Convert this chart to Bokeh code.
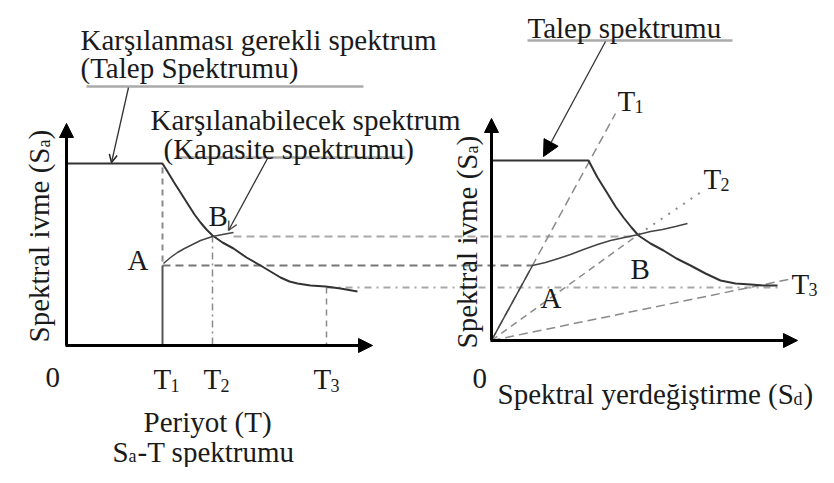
import math
from bokeh.plotting import figure
from bokeh.models import Range1d, Arrow, NormalHead, OpenHead
from bokeh.core.properties import value
from bokeh.embed import file_html
from bokeh.resources import INLINE

# ---------------- data (diagram coordinates, image pixel space) ----------------
# Left chart: Sa-T spectrum
L_origin_x, L_origin_y = 66, 345
L_yaxis_tip, L_xaxis_tip = 123, 372
L_demand_x = [66, 162, 167, 173, 180, 187, 194, 200, 206, 212, 222, 233, 246, 260, 270, 280, 289, 297, 310, 325, 340, 357]
L_demand_y = [163, 163, 171, 181, 192, 203, 214, 222, 229, 235, 242, 248, 257, 265, 271, 277, 281, 283, 285, 286, 288, 291]
L_capacity_x = [163, 170, 177, 184, 190, 200, 212, 222, 233]
L_capacity_y = [263, 257, 252, 248, 245, 240, 236, 234, 232]
L_T_x = [162, 212, 326]            # T1, T2, T3
L_T_top = [163, 235, 287]          # where verticals start
L_A_y, L_B_y, L_C_y = 265, 236, 287  # A, B, T3 levels

# Right chart: Sa-Sd spectrum
R_origin_x, R_origin_y = 491, 340
R_yaxis_tip, R_xaxis_tip = 118, 797
R_demand_x = [491, 588, 597, 607, 615, 623, 631, 638, 650, 663, 676, 690, 705, 720, 735, 750, 763, 777]
R_demand_y = [160, 160, 177, 193, 206, 217, 227, 235, 243, 250, 258, 265, 273, 280, 283, 284, 285, 285]
R_capacity_x = [491, 532, 545, 558, 570, 583, 597, 610, 624, 638, 650, 662, 675, 687]
R_capacity_y = [340, 265, 262, 258, 254, 249, 244, 240, 237, 234, 231, 229, 226, 223]
R_ray_T1 = (615, 113)
R_ray_T2_B = (638, 234)
R_ray_T2_end = (700, 192)
R_ray_T3 = (788, 279)
R_A_x, R_B_x, R_C_x = 532, 636, 777

FONT = value("Liberation Serif")
MAIN = "29px"
SUB = "18px"

p = figure(width=818, height=467, output_backend="svg", toolbar_location=None,
           x_range=Range1d(0, 818), y_range=Range1d(467, 0), min_border=0)
p.axis.visible = False
p.grid.visible = False
p.outline_line_color = None
p.background_fill_color = "white"
p.border_fill_color = "white"


def txt(x, y, s, size=MAIN, angle=0.0, color="#1a1a1a"):
    p.text(x=[x], y=[y], text=[s], text_font=FONT, text_font_size=size,
           text_align="left", text_baseline="alphabetic", angle=angle,
           text_color=color)


DASH = "8 5"
GRAY = "#8a8a8a"

# ---------------- helper lines between charts ----------------
p.line([L_T_x[1] + 21, R_B_x], [L_B_y, L_B_y], line_color="#a8a8a8", line_width=2, line_dash=DASH)
p.line([L_T_x[0], R_A_x], [L_A_y, L_A_y], line_color="#777777", line_width=2, line_dash=DASH)
p.line([L_T_x[2], R_C_x], [L_C_y, L_C_y], line_color="#a8a8a8", line_width=2, line_dash="7 5 2 5")

# ---------------- left chart ----------------
p.line([L_T_x[0], L_T_x[0]], [L_T_top[0] + 4, L_A_y], line_color=GRAY, line_width=2, line_dash="6 5")
p.line([L_T_x[0], L_T_x[0]], [L_A_y, L_origin_y], line_color="#555555", line_width=2)
p.line([L_T_x[1], L_T_x[1]], [L_T_top[1], L_origin_y], line_color=GRAY, line_width=1.5, line_dash="7 4 2 4")
p.line([L_T_x[2], L_T_x[2]], [L_T_top[2], L_origin_y], line_color=GRAY, line_width=1.5, line_dash="6 5")
p.line(L_demand_x, L_demand_y, line_color="#333333", line_width=2)
p.line(L_capacity_x, L_capacity_y, line_color="#444444", line_width=1.5)

p.add_layout(Arrow(end=NormalHead(size=14, fill_color="black", line_color="black"),
                   x_start=L_origin_x, y_start=L_origin_y, x_end=L_origin_x, y_end=L_yaxis_tip,
                   line_width=3, line_color="black"))
p.add_layout(Arrow(end=NormalHead(size=14, fill_color="black", line_color="black"),
                   x_start=L_origin_x - 1, y_start=L_origin_y, x_end=L_xaxis_tip, y_end=L_origin_y,
                   line_width=3, line_color="black"))

# annotations left
p.line([86, 363], [86, 86], line_color="#aaaaaa", line_width=2.5)
p.line([175, 405], [157, 157], line_color="#aaaaaa", line_width=2.5)
p.add_layout(Arrow(end=OpenHead(size=8, line_color="#222222", line_width=1.5),
                   x_start=128, y_start=87, x_end=111, y_end=162,
                   line_width=1.3, line_color="#333333"))
p.add_layout(Arrow(end=OpenHead(size=9, line_color="#555555", line_width=1.5),
                   x_start=267, y_start=158, x_end=228, y_end=230,
                   line_width=1.3, line_color="#333333"))

txt(80, 39, "Karşılanması gerekli spektrum")
txt(80, 67, "(Talep Spektrumu)")
txt(150, 119, "Karşılanabilecek spektrum")
txt(163, 148, "(Kapasite spektrumu)")
txt(208, 215, "B")
txt(127, 259, "A")
txt(45, 377, "0")
for tx, sub in zip([153, 203, 313], ["1", "2", "3"]):
    txt(tx, 378, "T")
    txt(tx + 17, 385, sub, size=SUB)
txt(143, 421, "Periyot (T)")
txt(112, 451, "S")
txt(128, 455, "a", size=SUB)
txt(137, 451, "-T spektrumu")

# rotated y label left
ang = math.pi / 2
txt(38, 342, "Spektral ivme (S", angle=ang)
txt(43, 147, "a", size=SUB, angle=ang)
txt(38, 139, ")", angle=ang)

# ---------------- right chart ----------------
p.line([R_origin_x, R_ray_T1[0]], [R_origin_y, R_ray_T1[1]], line_color=GRAY, line_width=1.5, line_dash="9 5")
p.line([R_origin_x, R_ray_T2_B[0]], [R_origin_y, R_ray_T2_B[1]], line_color=GRAY, line_width=1.5, line_dash="7 5")
p.line([R_ray_T2_B[0], R_ray_T2_end[0]], [R_ray_T2_B[1], R_ray_T2_end[1]], line_color=GRAY, line_width=2, line_dash="2 7")
p.line([R_origin_x, R_ray_T3[0]], [R_origin_y, R_ray_T3[1]], line_color=GRAY, line_width=1.5, line_dash="9 5")
p.line(R_demand_x, R_demand_y, line_color="#333333", line_width=2)
p.line(R_capacity_x, R_capacity_y, line_color="#444444", line_width=1.5)

p.add_layout(Arrow(end=NormalHead(size=14, fill_color="black", line_color="black"),
                   x_start=R_origin_x, y_start=R_origin_y, x_end=R_origin_x, y_end=R_yaxis_tip,
                   line_width=3, line_color="black"))
p.add_layout(Arrow(end=NormalHead(size=14, fill_color="black", line_color="black"),
                   x_start=R_origin_x - 1, y_start=R_origin_y, x_end=R_xaxis_tip, y_end=R_origin_y,
                   line_width=3, line_color="black"))

p.line([527, 732], [40, 40], line_color="#aaaaaa", line_width=2.5)
p.add_layout(Arrow(end=NormalHead(size=16, fill_color="black", line_color="black"),
                   x_start=605, y_start=41, x_end=543, y_end=156,
                   line_width=1.3, line_color="#333333"))

txt(527, 27, "Talep spektrumu")
txt(617, 100, "T")
txt(634, 106, "1", size=SUB)
txt(703, 178, "T")
txt(720, 184, "2", size=SUB)
txt(791, 283, "T")
txt(808, 289, "3", size=SUB)
txt(630, 268, "B")
txt(540, 297, "A")
txt(472, 378, "0")
txt(497, 393, "Spektral yerdeğiştirme (S")
txt(793, 398, "d", size=SUB)
txt(803, 393, ")")

txt(466, 348, "Spektral ivme (S", angle=ang)
txt(471, 153, "a", size=SUB, angle=ang)
txt(466, 145, ")", angle=ang)

open("out.html", "w").write(file_html(p, INLINE))
